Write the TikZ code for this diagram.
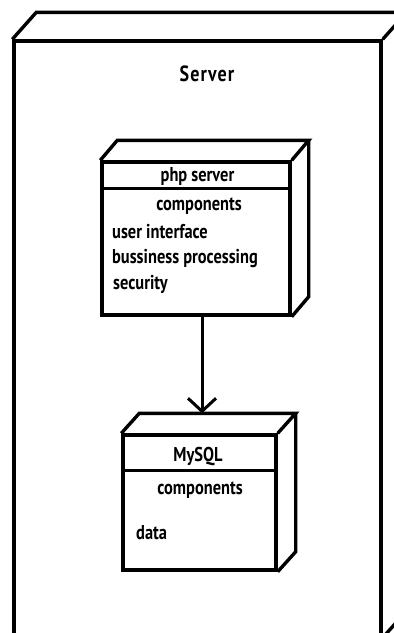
\documentclass[tikz,border=0pt]{standalone}
\usepackage{fontspec}
\setmainfont{PT Sans}[FakeStretch=0.82]
\usetikzlibrary{arrows.meta}
\usetikzlibrary{calc}
\tikzset{
  box/.style={draw, line width=3.4pt, inner sep=0pt},
  face/.style={line width=3.4pt, line join=miter},
  txt/.style={font=\bfseries\fontsize{20}{20}\selectfont, inner sep=0pt},
  flow/.style={line width=3pt, -{Straight Barb[length=13pt,width=28pt,line width=3pt]}}
}

\begin{document}
\begin{tikzpicture}[x=1pt,y=-1pt]
    \useasboundingbox (0,0) rectangle (394,633);

    % outer device
    \node[box, minimum width=367pt, minimum height=595pt] (server) at (197.5,338.5) {};
    \draw[face] (server.north west) -- ++(24,-27) -- ($(server.north east)+(24,-27)$) -- (server.north east);
    \draw[face] ($(server.north east)+(24,-27)$) -- ($(server.south east)+(24,-27)$) -- (server.south east);
    \node[txt, font=\bfseries\fontsize{22}{22}\selectfont\addfontfeatures{LetterSpace=5}] (srvlabel) at (207,74) {Server};

    % php server
    \node[box, minimum width=188pt, minimum height=153pt] (php) at (196,238.5) {};
    \draw[face] (php.north west) -- ++(17,-20) -- ($(php.north east)+(17,-20)$) -- (php.north east);
    \draw[face] ($(php.north east)+(17,-20)$) -- ($(php.south east)+(17,-20)$) -- (php.south east);
    \draw[face] ($(php.north west)+(0,28)$) -- ($(php.north east)+(0,28)$);
    \node[txt] (phptitle) at (197.5,176) {php server};
    \node[txt] (phpcomp) at (199,206) {components};
    \node[txt, anchor=west] (phpui) at (112,232) {user interface};
    \node[txt, anchor=west] (phpbiz) at (112,259) {bussiness processing};
    \node[txt, anchor=west] (phpsec) at (113,284) {security};

    % MySQL
    \node[box, minimum width=153pt, minimum height=135pt] (mysql) at (199.5,502.5) {};
    \draw[face] (mysql.north west) -- ++(18,-20) -- ($(mysql.north east)+(18,-20)$) -- (mysql.north east);
    \draw[face] ($(mysql.north east)+(18,-20)$) -- ($(mysql.south east)+(18,-20)$) -- (mysql.south east);
    \draw[face] ($(mysql.north west)+(0,37)$) -- ($(mysql.north east)+(0,37)$);
    \coordinate (sqltop) at ($(mysql.north)+(0,-20)$);
    \node[txt] (sqltitle) at (198,457) {MySQL};
    \node[txt] (sqlcomp) at (200,490) {components};
    \node[txt, anchor=west] (sqldata) at (136,533) {data};

    \draw[flow] ([xshift=6pt]php.south) -- ([xshift=6pt]php.south |- sqltop);

\end{tikzpicture}
\end{document}
